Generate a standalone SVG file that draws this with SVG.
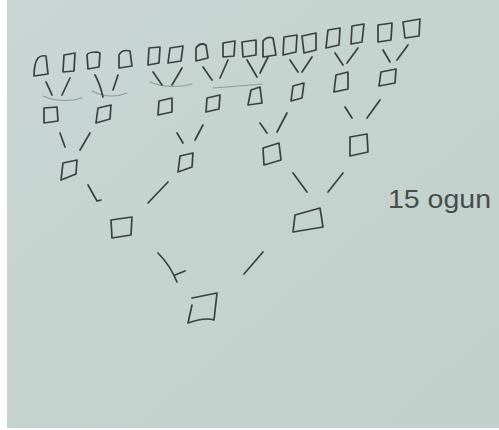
<svg xmlns="http://www.w3.org/2000/svg" width="499" height="430" viewBox="0 0 499 430">
<style>
.n path{fill:none;stroke:#3b3f3f;stroke-width:1.7;stroke-linejoin:round;stroke-linecap:round}
#connectors path{fill:none;stroke:#3b3f3f;stroke-width:1.7;stroke-linecap:round}
#connectors path.faint{stroke:#8e9c98;stroke-width:1.1}
.lbl{font-family:"Liberation Sans",Arial,sans-serif;font-size:25px;fill:#474d4c}
</style>
<defs>
<linearGradient id="paper" x1="0" y1="0" x2="1" y2="1">
<stop offset="0" stop-color="#c9d6d3"/>
<stop offset="0.5" stop-color="#c5d3cf"/>
<stop offset="1" stop-color="#c3d1cd"/>
</linearGradient>
</defs>
<rect width="499" height="430" fill="#ffffff"/>
<rect x="7" y="0" width="492" height="428" fill="url(#paper)"/>

<g id="connectors">
<path class="faint" d="M43,96 Q62,104 82,98"/>
<path class="faint" d="M92,91 Q110,100 127,93"/>
<path class="faint" d="M150,82 Q170,90 192,84"/>
<path class="faint" d="M213,88 Q240,86 262,84"/>
<path d="M46,82 Q49,88 52,95"/>
<path d="M70,78 L62,95"/>
<path d="M95,75 Q100,84 103,97"/>
<path d="M118,75 L113,90"/>
<path d="M153,72 L162,85"/>
<path d="M182,68 L172,85"/>
<path d="M203,67 L212,80"/>
<path d="M228,60 L220,78"/>
<path d="M247,60 L257,77"/>
<path d="M268,57 L260,73"/>
<path d="M290,60 L298,72"/>
<path d="M312,57 L302,72"/>
<path d="M335,53 L343,65"/>
<path d="M358,48 L347,63"/>
<path d="M383,50 L390,62"/>
<path d="M408,45 L397,60"/>
<path d="M60,133 L65,147"/>
<path d="M90,133 L80,150"/>
<path d="M177,133 L183,143"/>
<path d="M203,125 L195,140"/>
<path d="M260,123 L267,133"/>
<path d="M287,113 L277,132"/>
<path d="M345,107 L352,118"/>
<path d="M380,100 L367,118"/>
<path d="M88,185 L97,201 L101,200"/>
<path d="M168,182 L148,203"/>
<path d="M293,173 L307,192"/>
<path d="M343,173 L328,192"/>
<path d="M158,253 Q170,265 177,282"/>
<path d="M175,275 L185,271"/>
<path d="M263,252 L244,274"/>
</g>

<g id="r1-1" class="n"><path d="M34,76 C34,68 35,62 38,58 Q41,55 46,56 L48,74 Z"/></g>
<g id="r1-2" class="n"><path d="M63,72 L64,55 L75,53 L74,71 Z"/></g>
<g id="r1-3" class="n"><path d="M88,69 L87,55 Q88,52 97,52 L100,53 L99,67 Z"/></g>
<g id="r1-4" class="n"><path d="M119,68 L119,55 Q122,49 130,51 L132,66 Z"/></g>
<g id="r1-5" class="n"><path d="M148,65 L149,48 L160,47 L159,63 Z"/></g>
<g id="r1-6" class="n"><path d="M168,63 L170,48 L183,46 L181,61 Z"/></g>
<g id="r1-7" class="n"><path d="M196,61 L196,48 Q200,42 206,45 L208,58 Z"/></g>
<g id="r1-8" class="n"><path d="M223,57 L223,43 L235,41 L234,56 Z"/></g>
<g id="r1-9" class="n"><path d="M243,57 L242,42 L256,40 L256,55 Z"/></g>
<g id="r1-10" class="n"><path d="M263,57 L263,41 Q267,36 273,38 L276,55 Z"/></g>
<g id="r1-11" class="n"><path d="M283,55 L284,37 L297,35 L296,52 Z"/></g>
<g id="r1-12" class="n"><path d="M304,53 L302,36 L316,33 L316,50 Z"/></g>
<g id="r1-13" class="n"><path d="M326,48 L328,30 L340,28 L339,45 Z"/></g>
<g id="r1-14" class="n"><path d="M351,44 L352,26 L364,24 L362,42 Z"/></g>
<g id="r1-15" class="n"><path d="M378,42 L378,25 L392,23 L391,40 Z"/></g>
<g id="r1-16" class="n"><path d="M405,38 L403,22 L420,19 L419,36 Z"/></g>

<g id="r2-1" class="n"><path d="M44,123 L44,108 L57,107 L58,121 Z"/></g>
<g id="r2-2" class="n"><path d="M96,123 L98,108 L111,105 L110,119 Z"/></g>
<g id="r2-3" class="n"><path d="M158,115 L159,101 L172,98 L172,112 Z"/></g>
<g id="r2-4" class="n"><path d="M206,112 L207,98 L220,95 L219,109 Z"/></g>
<g id="r2-5" class="n"><path d="M248,105 L251,90 L260,87 L262,103 Z"/></g>
<g id="r2-6" class="n"><path d="M291,101 L293,86 L304,83 L302,98 Z"/></g>
<g id="r2-7" class="n"><path d="M334,92 L336,75 L348,72 L348,89 Z"/></g>
<g id="r2-8" class="n"><path d="M379,86 L381,72 L396,69 L395,83 Z"/></g>

<g id="r3-1" class="n"><path d="M61,180 L63,163 L77,160 L76,174 Z"/></g>
<g id="r3-2" class="n"><path d="M178,172 L180,156 L193,153 L192,167 Z"/></g>
<g id="r3-3" class="n"><path d="M264,165 L263,148 L279,143 L281,160 Z"/></g>
<g id="r3-4" class="n"><path d="M350,156 L350,137 L367,134 L368,152 Z"/></g>

<g id="r4-1" class="n"><path d="M112,238 L111,220 L132,217 L131,235 Z"/></g>
<g id="r4-2" class="n"><path d="M293,232 L295,215 L320,208 L323,227 Z"/></g>

<g id="final" class="n"><path d="M192,298 L217,293 L214,320 Q205,317 188,323 L192,305"/></g>

<g id="label"><text class="lbl" x="388" y="208" textLength="103" lengthAdjust="spacingAndGlyphs">15 ogun</text></g>
</svg>
